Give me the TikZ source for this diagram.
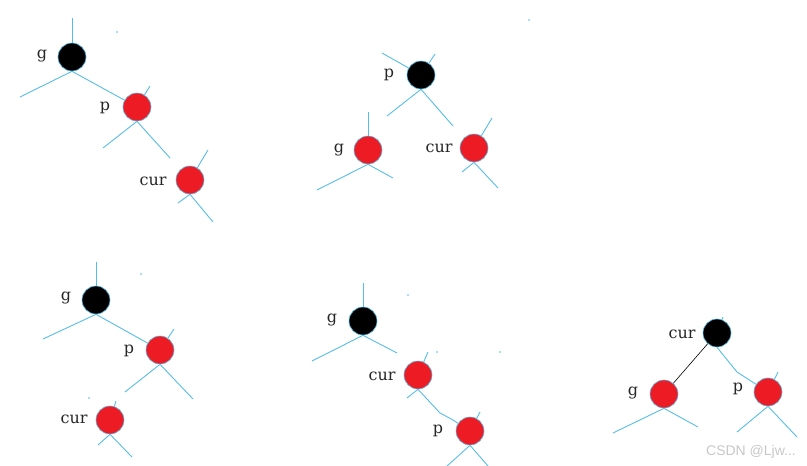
\documentclass[tikz,border=0pt]{standalone}
\usepackage{xcolor}
\usepackage{fontspec}
\setmainfont{DejaVu Serif}
\newfontfamily\markfont{Liberation Sans}
\usetikzlibrary{positioning}

\definecolor{branchblue}{RGB}{86,189,232}
\definecolor{nodered}{RGB}{237,28,36}

\tikzset{
  rbnode/.style={circle, minimum size=28pt, inner sep=0pt, draw=branchblue, line width=0.6pt},
  rednode/.style={rbnode, fill=nodered},
  blacknode/.style={rbnode, fill=black},
  lbl/.style={font=\fontsize{16}{18}\selectfont, inner sep=0pt, anchor=base, text=black!85},
  br/.style={branchblue, line width=0.9pt},
  speck/.style={fill=branchblue},
}

\begin{document}
\begin{tikzpicture}[x=1pt, y=-1pt]
  \useasboundingbox (0,0) rectangle (807,466);

  % case 1: g - p - cur, all to the right
  \node[blacknode] (g1) at (72,57) {};
  \node[rednode] (p1) at (137,107) {};
  \node[rednode] (c1) at (190,180) {};
  \node[lbl] (g1t) at (42,58) {g};
  \node[lbl] (p1t) at (105,110) {p};
  \node[lbl] (c1t) at (153,185) {cur};
  \coordinate (g1u) at (72,18);
  \coordinate (g1l) at (20,97);
  \coordinate (p1r) at (150,86);
  \coordinate (p1l) at (103,148);
  \coordinate (p1d) at (170,158);
  \coordinate (c1u) at (208,150);
  \coordinate (c1l) at (178,203);
  \coordinate (c1r) at (213,222);
  \draw[br] (g1) -- (g1u);
  \draw[br] (g1.south) -- (g1l);
  \draw[br] (g1.south) -- (p1);
  \draw[br] (p1) -- (p1r);
  \draw[br] (p1.south) -- (p1l);
  \draw[br] (p1.south) -- (p1d);
  \draw[br] (c1) -- (c1u);
  \draw[br] (c1.south) -- (c1l);
  \draw[br] (c1.south) -- (c1r);
  \fill[speck] (117,32) circle (0.8);

  % case 1 after rotation
  \node[blacknode] (p2) at (421,75) {};
  \node[rednode] (g2) at (368,150) {};
  \node[rednode] (c2) at (474,148) {};
  \node[lbl] (p2t) at (389,77) {p};
  \node[lbl] (g2t) at (339,152) {g};
  \node[lbl] (c2t) at (439,152) {cur};
  \coordinate (p2a) at (382,53);
  \coordinate (p2b) at (435,54);
  \coordinate (p2l) at (387,116);
  \coordinate (p2r) at (453,126);
  \coordinate (g2u) at (368,112);
  \coordinate (g2l) at (317,190);
  \coordinate (g2r) at (393,178);
  \coordinate (c2u) at (492,118);
  \coordinate (c2l) at (462,172);
  \coordinate (c2r) at (498,188);
  \draw[br] (p2) -- (p2a);
  \draw[br] (p2) -- (p2b);
  \draw[br] (p2.south) -- (p2l);
  \draw[br] (p2.south) -- (p2r);
  \draw[br] (g2) -- (g2u);
  \draw[br] (g2.south) -- (g2l);
  \draw[br] (g2.south) -- (g2r);
  \draw[br] (c2) -- (c2u);
  \draw[br] (c2.south) -- (c2l);
  \draw[br] (c2.south) -- (c2r);
  \fill[speck] (529,20) circle (0.8);

  % case 2: cur is left child of p
  \node[blacknode] (g3) at (96,300) {};
  \node[rednode] (p3) at (160,350) {};
  \node[rednode] (c3) at (110,420) {};
  \node[lbl] (g3t) at (66,300) {g};
  \node[lbl] (p3t) at (129,353) {p};
  \node[lbl] (c3t) at (74,423) {cur};
  \coordinate (g3u) at (96,262);
  \coordinate (g3l) at (43,339);
  \coordinate (p3r) at (174,329);
  \coordinate (p3l) at (125,392);
  \coordinate (p3d) at (193,399);
  \coordinate (c3u) at (116,401);
  \coordinate (c3l) at (98,445);
  \coordinate (c3r) at (132,457);
  \draw[br] (g3) -- (g3u);
  \draw[br] (g3.south) -- (g3l);
  \draw[br] (g3.south) -- (p3);
  \draw[br] (p3) -- (p3r);
  \draw[br] (p3.south) -- (p3l);
  \draw[br] (p3.south) -- (p3d);
  \draw[br] (c3) -- (c3u);
  \draw[br] (c3.south) -- (c3l);
  \draw[br] (c3.south) -- (c3r);
  \fill[speck] (141,274) circle (0.8);
  \fill[speck] (89,398) circle (0.8);

  % case 2 after first rotation
  \node[blacknode] (g4) at (363,321) {};
  \node[rednode] (c4) at (418,375) {};
  \node[rednode] (p4) at (470,431) {};
  \node[lbl] (g4t) at (332,322) {g};
  \node[lbl] (c4t) at (382,380) {cur};
  \node[lbl] (p4t) at (438,433) {p};
  \coordinate (g4u) at (363,283);
  \coordinate (g4l) at (312,361);
  \coordinate (g4r) at (397,353);
  \coordinate (c4u) at (428,352);
  \coordinate (c4l) at (407,398);
  \coordinate (c4m) at (440,413);
  \coordinate (c4n) at (453,420);
  \coordinate (p4u) at (480,412);
  \coordinate (p4l) at (447,466);
  \coordinate (p4r) at (488,466);
  \draw[br] (g4) -- (g4u);
  \draw[br] (g4.south) -- (g4l);
  \draw[br] (g4.south) -- (g4r);
  \draw[br] (c4) -- (c4u);
  \draw[br] (c4.south) -- (c4l);
  \draw[br] (c4.south) -- (c4m) -- (c4n) -- (p4);
  \draw[br] (p4) -- (p4u);
  \draw[br] (p4.south) -- (p4l);
  \draw[br] (p4.south) -- (p4r);
  \fill[speck] (408,295) circle (0.8);
  \fill[speck] (437,352) circle (0.8);
  \fill[speck] (500,352) circle (0.8);

  % case 2 after second rotation
  \node[blacknode] (c5) at (717,333) {};
  \node[rednode] (g5) at (664,394) {};
  \node[rednode] (p5) at (768,392) {};
  \node[lbl] (c5t) at (682,338) {cur};
  \node[lbl] (g5t) at (633,395) {g};
  \node[lbl] (p5t) at (738,391) {p};
  \coordinate (c5u) at (723,317);
  \coordinate (c5m) at (737,372);
  \coordinate (g5l) at (613,433);
  \coordinate (g5r) at (698,427);
  \coordinate (p5u) at (778,372);
  \coordinate (p5l) at (737,432);
  \coordinate (p5r) at (797,437);
  \draw[br] (c5) -- (c5u);
  \draw[black, line width=0.6pt] (c5) -- (g5);
  \draw[br] (c5.south) -- (c5m) -- (p5);
  \draw[br] (g5.south) -- (g5l);
  \draw[br] (g5.south) -- (g5r);
  \draw[br] (p5) -- (p5u);
  \draw[br] (p5.south) -- (p5l);
  \draw[br] (p5.south) -- (p5r);

  \node[font=\markfont\fontsize{14}{16}\selectfont, text=black!22, inner sep=0pt] (mark) at (751,452) {CSDN @Ljw...};
\end{tikzpicture}
\end{document}
